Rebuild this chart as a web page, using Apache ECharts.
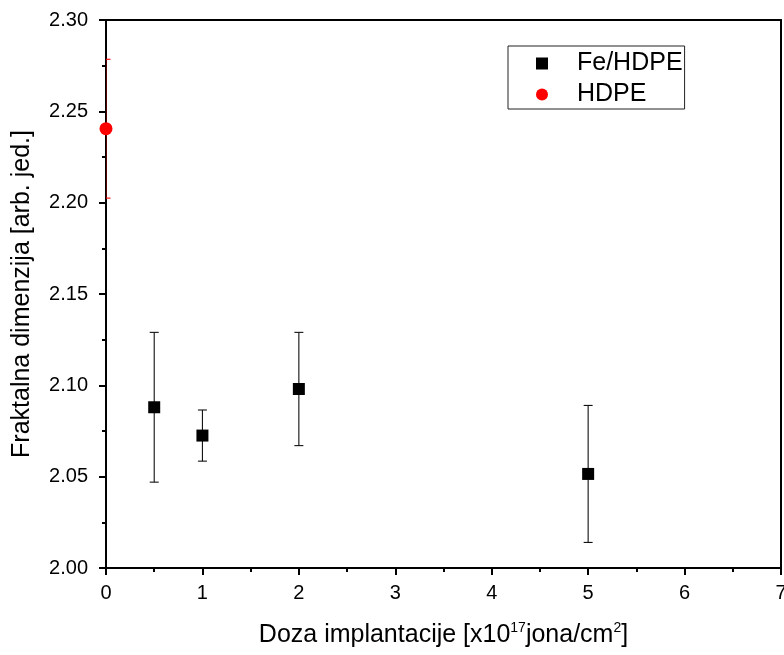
<!DOCTYPE html>
<html><head><meta charset="utf-8">
<script src="https://cdn.jsdelivr.net/npm/echarts@6/dist/echarts.min.js"></script>
<style>html,body{margin:0;padding:0;background:#fff}#c{width:784px;height:655px}</style>
</head><body><div id="c"></div>
<script>
var feX = [0.5, 1, 2, 5];
var feY = [2.088, 2.0725, 2.098, 2.0515];
var feErr = [0.041, 0.014, 0.031, 0.0375];
var hdpeX = [0];
var hdpeY = [2.2405];
var hdpeErr = [0.038];

function pts(xs, ys){ return xs.map(function(x,i){return [x, ys[i]];}); }
function errs(xs, ys, es){ return xs.map(function(x,i){return [x, ys[i]-es[i], ys[i]+es[i]];}); }

function errRender(color, capColor){
  return function(params, api){
    var x = api.value(0), lo = api.value(1), hi = api.value(2);
    var pL = api.coord([x, lo]), pH = api.coord([x, hi]);
    var w = 4.5;
    var st = {stroke: color, lineWidth: 1.1};
    var st2 = {stroke: capColor, lineWidth: 1.1};
    return {type:'group', children:[
      {type:'line', shape:{x1:pL[0],y1:pL[1],x2:pH[0],y2:pH[1]}, style:st},
      {type:'line', shape:{x1:pL[0]-w,y1:pL[1],x2:pL[0]+w,y2:pL[1]}, style:st2},
      {type:'line', shape:{x1:pH[0]-w,y1:pH[1],x2:pH[0]+w,y2:pH[1]}, style:st2}
    ]};
  };
}

var font = 'Liberation Sans, Arial, sans-serif';
var chart = echarts.init(document.getElementById('c'), null, {renderer:'canvas'});
chart.setOption({
  animation:false,
  backgroundColor:'#fff',
  textStyle:{fontFamily:font},
  grid:{left:106, right:3, top:20, bottom:87, containLabel:false, outerBoundsMode:'none'},
  legend:{
    orient:'vertical', left:508, top:46,
    padding:[5,2,2,28], itemGap:6,
    borderColor:'#222', borderWidth:1,
    itemWidth:12, itemHeight:12,
    textStyle:{fontSize:25, color:'#000', fontFamily:font, padding:[0,0,0,24]},
    data:[{name:'Fe/HDPE', icon:'rect'},{name:'HDPE', icon:'circle'}]
  },
  xAxis:[{
    type:'value', min:0, max:7, interval:1,
    name:'Doza implantacije [x10{sup|17}jona/cm{sup|2}]',
    nameLocation:'middle', nameGap:53,
    nameTextStyle:{fontSize:25, color:'#000', fontFamily:font,
      rich:{sup:{fontSize:14, verticalAlign:'top', padding:[0,0,14,0], color:'#000', fontFamily:font}}},
    axisLine:{show:true, onZero:false, lineStyle:{color:'#000', width:2}},
    axisTick:{show:true, inside:false, length:7, lineStyle:{color:'#000', width:2}},
    minorTick:{show:true, splitNumber:2, length:4, lineStyle:{color:'#000', width:2}},
    axisLabel:{fontSize:20, color:'#000', margin:15, fontFamily:font},
    splitLine:{show:false}
  },{
    type:'value', min:0, max:7, position:'top',
    axisLine:{show:true, onZero:false, lineStyle:{color:'#000', width:2}},
    axisTick:{show:false}, axisLabel:{show:false}, splitLine:{show:false}
  }],
  yAxis:[{
    type:'value', min:2.00, max:2.30, interval:0.05,
    name:'Fraktalna dimenzija [arb. jed.]',
    nameLocation:'middle', nameGap:71,
    nameTextStyle:{fontSize:25, color:'#000', fontFamily:font},
    axisLine:{show:true, onZero:false, lineStyle:{color:'#000', width:2}},
    axisTick:{show:true, inside:false, length:7, lineStyle:{color:'#000', width:2}},
    minorTick:{show:true, splitNumber:2, length:4, lineStyle:{color:'#000', width:2}},
    axisLabel:{fontSize:20, color:'#000', margin:18, fontFamily:font,
      formatter:function(v){return v.toFixed(2);}},
    splitLine:{show:false}
  },{
    type:'value', min:2.00, max:2.30, position:'right',
    axisLine:{show:true, onZero:false, lineStyle:{color:'#000', width:2}},
    axisTick:{show:false}, axisLabel:{show:false}, splitLine:{show:false}
  }],
  series:[
    {name:'Fe/HDPE err', type:'custom', clip:true, renderItem:errRender('#111','#111'),
      data:errs(feX, feY, feErr), z:3, silent:true},
    {name:'HDPE err', type:'custom', clip:true, renderItem:errRender('#990000','#ff0000'),
      data:errs(hdpeX, hdpeY, hdpeErr), z:3, silent:true},
    {name:'Fe/HDPE', type:'scatter', symbol:'rect', symbolSize:12, clip:true,
      itemStyle:{color:'#000', opacity:1}, data:pts(feX, feY), z:4},
    {name:'HDPE', type:'scatter', symbol:'circle', symbolSize:13, clip:true,
      itemStyle:{color:'#ff0000', opacity:1}, data:pts(hdpeX, hdpeY), z:4}
  ]
});
</script>
</body></html>
